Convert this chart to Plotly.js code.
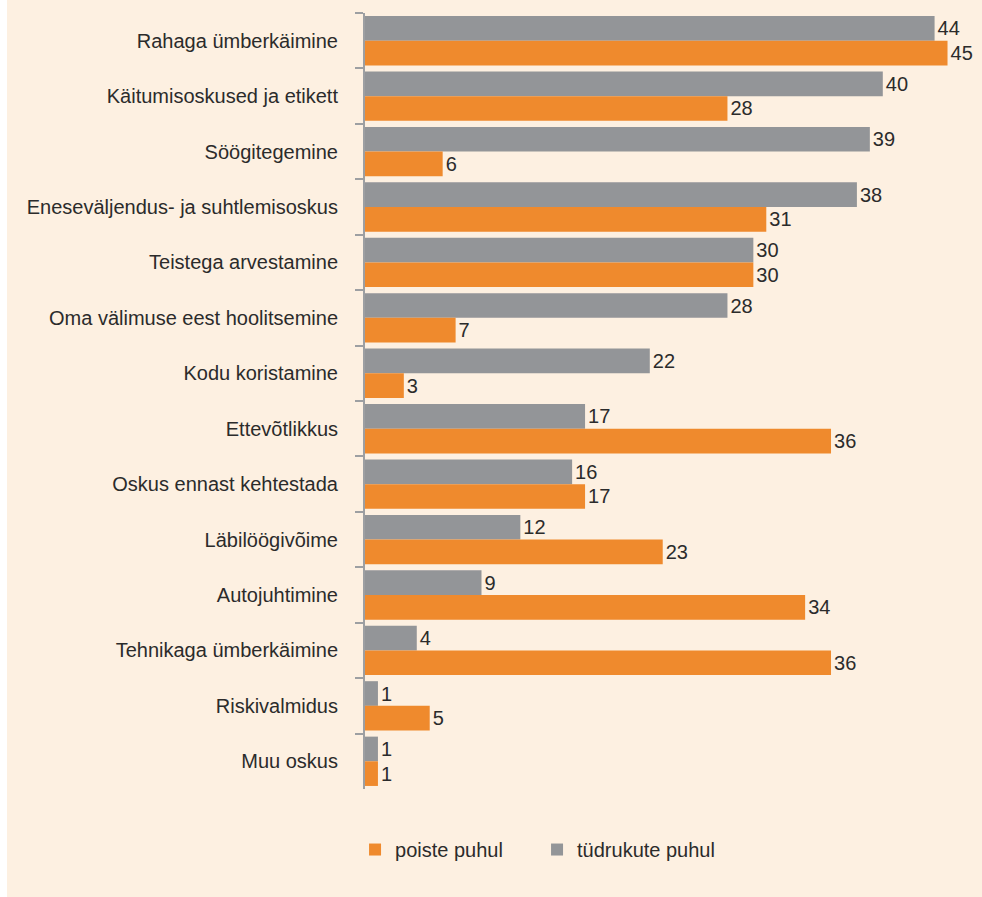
<!DOCTYPE html>
<html>
<head>
<meta charset="utf-8">
<script src="https://cdn.plot.ly/plotly-3.0.1.min.js"></script>
<style>
html, body { margin: 0; padding: 0; background: #ffffff; }
#chart { position: absolute; left: 7px; top: 0; width: 975px; height: 897px; }
</style>
</head>
<body>
<div id="chart"></div>
<script>
const categories = [
  "Rahaga ümberkäimine",
  "Käitumisoskused ja etikett",
  "Söögitegemine",
  "Eneseväljendus- ja suhtlemisoskus",
  "Teistega arvestamine",
  "Oma välimuse eest hoolitsemine",
  "Kodu koristamine",
  "Ettevõtlikkus",
  "Oskus ennast kehtestada",
  "Läbilöögivõime",
  "Autojuhtimine",
  "Tehnikaga ümberkäimine",
  "Riskivalmidus",
  "Muu oskus"
];
const girls = [44, 40, 39, 38, 30, 28, 22, 17, 16, 12, 9, 4, 1, 1];
const boys  = [45, 28, 6, 31, 30, 7, 3, 36, 17, 23, 34, 36, 5, 1];
const girlsName = "tüdrukute puhul";
const boysName = "poiste puhul";

const fontFam = "Liberation Sans, Arial, sans-serif";
const textFont = { family: fontFam, size: 20, color: "#2b2b2b" };

const traces = [
  {
    type: "bar", orientation: "h", name: girlsName,
    y: categories, x: girls,
    text: girls.map(String), textposition: "outside", cliponaxis: false,
    constraintext: "none", textfont: textFont,
    marker: { color: "#939598" }, hoverinfo: "x+y"
  },
  {
    type: "bar", orientation: "h", name: boysName,
    y: categories, x: boys,
    text: boys.map(String), textposition: "outside", cliponaxis: false,
    constraintext: "none", textfont: textFont,
    marker: { color: "#ef8a2d" }, hoverinfo: "x+y"
  }
];

const layout = {
  width: 975, height: 897,
  paper_bgcolor: "#fdf0e1",
  plot_bgcolor: "#fdf0e1",
  margin: { l: 358, r: 6, t: 13, b: 108, pad: 0 },
  barmode: "group",
  bargap: 0.11,
  bargroupgap: 0,
  font: textFont,
  showlegend: true,
  legend: {
    orientation: "h",
    traceorder: "reversed",
    x: -0.0163, xanchor: "left",
    y: -0.078, yanchor: "middle",
    font: textFont,
    entrywidth: 137, entrywidthmode: "pixels",
    bgcolor: "rgba(0,0,0,0)",
    itemclick: false
  },
  xaxis: {
    range: [0, 47.2],
    visible: false,
    fixedrange: true
  },
  yaxis: {
    autorange: "reversed",
    type: "category",
    showline: true, linecolor: "#9d9fa2", linewidth: 2,
    ticks: "outside", tickson: "boundaries", ticklen: 8,
    tickcolor: "#9d9fa2", tickwidth: 2,
    ticklabelstandoff: 21,
    tickfont: textFont,
    showgrid: false, zeroline: false,
    fixedrange: true
  }
};

Plotly.newPlot("chart", traces, layout, { displayModeBar: false, staticPlot: true });
</script>
</body>
</html>
